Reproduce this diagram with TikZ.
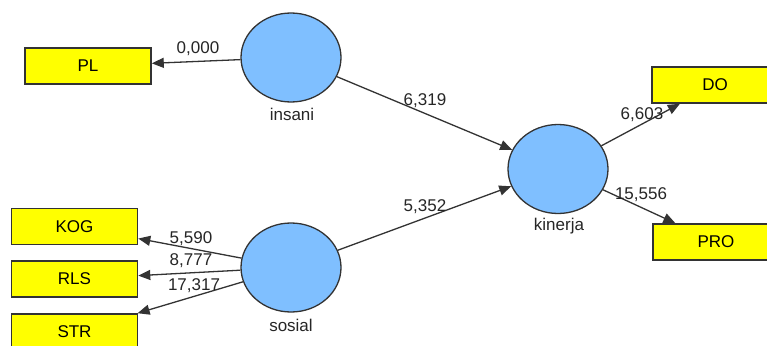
\documentclass[tikz,border=0pt]{standalone}
\usepackage{fontspec}
\setmainfont{Liberation Sans}
\usetikzlibrary{arrows.meta,shapes.geometric}
\definecolor{latentfill}{HTML}{7FBFFF}
\definecolor{itemfill}{HTML}{FFFF00}
\definecolor{edgegray}{HTML}{333333}
\tikzset{
  latent/.style={ellipse, draw=edgegray, line width=1.3pt, fill=latentfill,
    minimum width=100pt, minimum height=89pt, inner sep=0pt},
  indicator/.style={rectangle, draw=edgegray, line width=1.6pt, fill=itemfill,
    minimum width=126pt, minimum height=36pt, inner sep=0pt,
    font=\fontsize{17}{20}\selectfont},
  nametag/.style={font=\fontsize{17}{20}\selectfont, text=black!85, inner sep=0pt},
  weight/.style={font=\fontsize{17}{20}\selectfont, text=black!85, inner sep=0pt},
  path/.style={draw=edgegray, line width=1.3pt, -{Triangle[length=12pt,width=10pt]}}
}
\begin{document}
\begin{tikzpicture}[x=1pt,y=-1pt]
\useasboundingbox[fill=white] (0,0) rectangle (767,345);

% latent constructs
\node[latent] (insani) at (291,57.5) {};
\node[latent] (sosial) at (291,267.5) {};
\node[latent] (kinerja) at (558,169) {};
\node[nametag] (insaniL) at (292,114) {insani};
\node[nametag] (sosialL) at (291,325) {sosial};
\node[nametag] (kinerjaL) at (559,226) {kinerja};

% indicators
\node[indicator] (PL) at (88,66) {PL};
\node[indicator] (KOG) at (74.5,226.5) {KOG};
\node[indicator] (RLS) at (74.5,279) {RLS};
\node[indicator] (STR) at (74.5,332) {STR};
\node[indicator] (DO) at (715,85) {DO};
\node[indicator] (PRO) at (716,242) {PRO};

% paths
\draw[path] (insani) -- (PL);
\draw[path] (sosial) -- (KOG);
\draw[path] (sosial) -- (RLS);
\draw[path] (sosial) -- (STR);
\draw[path] (insani) -- (kinerja);
\draw[path] (sosial) -- (kinerja);
\draw[path] (kinerja) -- (DO);
\draw[path] (kinerja) -- (PRO);

% path values
\node[weight] (w1) at (198,49) {0,000};
\node[weight] (w2) at (191,239) {5,590};
\node[weight] (w3) at (191,261) {8,777};
\node[weight] (w4) at (194,286) {17,317};
\node[weight] (w5) at (425,101) {6,319};
\node[weight] (w6) at (425,207) {5,352};
\node[weight] (w7) at (642,115) {6,603};
\node[weight] (w8) at (641,195) {15,556};
\end{tikzpicture}
\end{document}
